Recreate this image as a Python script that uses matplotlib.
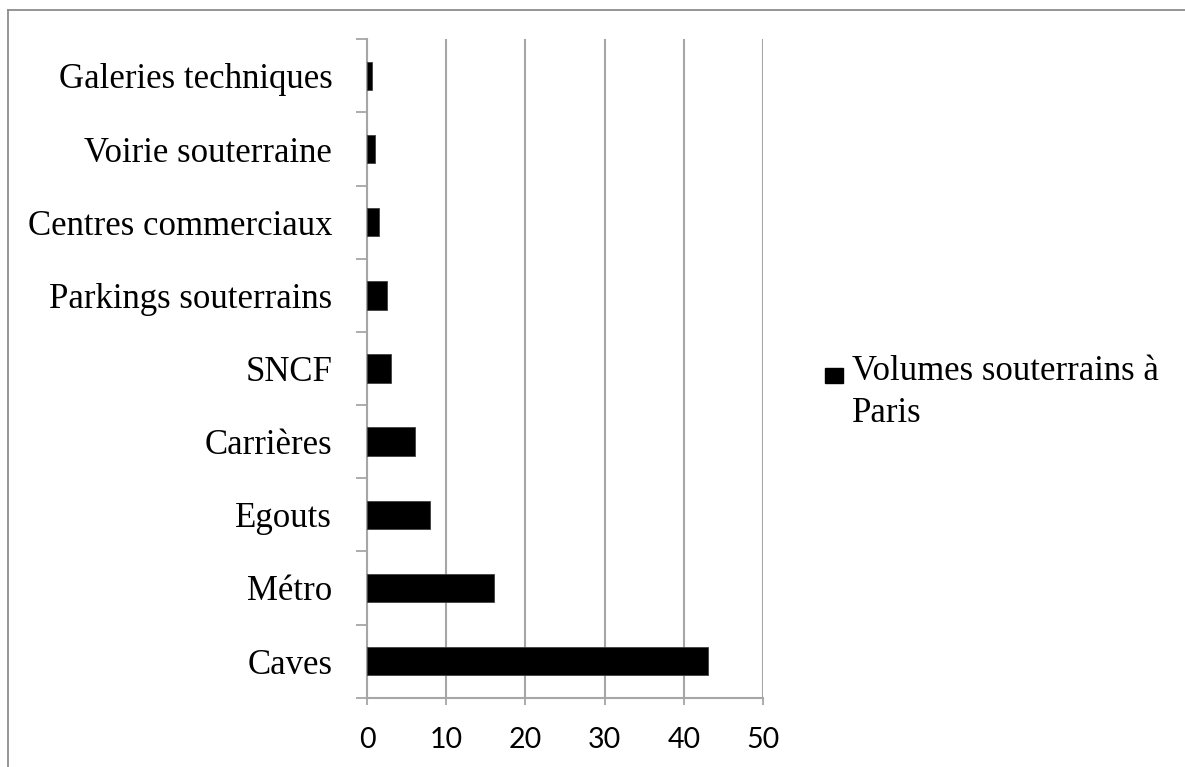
import matplotlib.pyplot as plt
from matplotlib.lines import Line2D
from matplotlib.patches import Rectangle

categories = ["Caves", "Métro", "Egouts", "Carrières", "SNCF",
              "Parkings souterrains", "Centres commerciaux",
              "Voirie souterraine", "Galeries techniques"]
values = [43, 16, 8, 6, 3, 2.5, 1.5, 1, 0.6]
series_name = "Volumes souterrains à\nParis"
xticks = [0, 10, 20, 30, 40, 50]

serif = "Liberation Serif"
sans = "Lato"
grey = "#a6a6a6"

fig = plt.figure(figsize=(11.85, 7.67), dpi=100)
ax = fig.add_axes([0.3097, 0.0903, 0.3342, 0.8585])

pos = list(range(len(categories)))
ax.barh(pos, values, height=0.39, color="black", edgecolor="#404040", linewidth=0.6, zorder=3)

ax.set_xlim(0, 50)
ax.set_ylim(-0.5, len(categories) - 0.5)
ax.set_xticks(xticks)
ax.set_xticklabels([str(t) for t in xticks], fontfamily=sans, fontsize=20.5)
ax.tick_params(axis="x", direction="out", length=5, width=1.3, color=grey, pad=16)
ax.xaxis.grid(True, color=grey, linewidth=1.5, zorder=0)

ax.set_yticks(pos)
ax.set_yticklabels(categories, fontfamily=serif, fontsize=25)
ax.set_yticks([p - 0.5 for p in pos] + [len(categories) - 0.5], minor=True)
ax.tick_params(axis="y", which="major", length=0, pad=25)
ax.tick_params(axis="y", which="minor", direction="out", length=8, width=1.3, color=grey)

for s in ["top", "right"]:
    ax.spines[s].set_visible(False)
for s in ["left", "bottom"]:
    ax.spines[s].set_color(grey)
    ax.spines[s].set_linewidth(1.5)

# legend drawn by hand so the square sits on the first text line
W, H = 1185, 767
fig.add_artist(Rectangle((825 / W, 1 - 383 / H), 18 / W, 15 / H,
                         transform=fig.transFigure, color="black"))
for i, line in enumerate(series_name.split("\n")):
    fig.text(852 / W, 1 - (380 + 42 * i) / H, line, fontfamily=serif, fontsize=25,
             va="baseline", ha="left")

# outer frame
fig.add_artist(Line2D([8 / W, 1], [1 - 10 / H, 1 - 10 / H], transform=fig.transFigure,
                      color="#8c8c8c", linewidth=1.3))
fig.add_artist(Line2D([8 / W, 8 / W], [0, 1 - 10 / H], transform=fig.transFigure,
                      color="#8c8c8c", linewidth=1.3))

fig.savefig("out.png", dpi=100)
